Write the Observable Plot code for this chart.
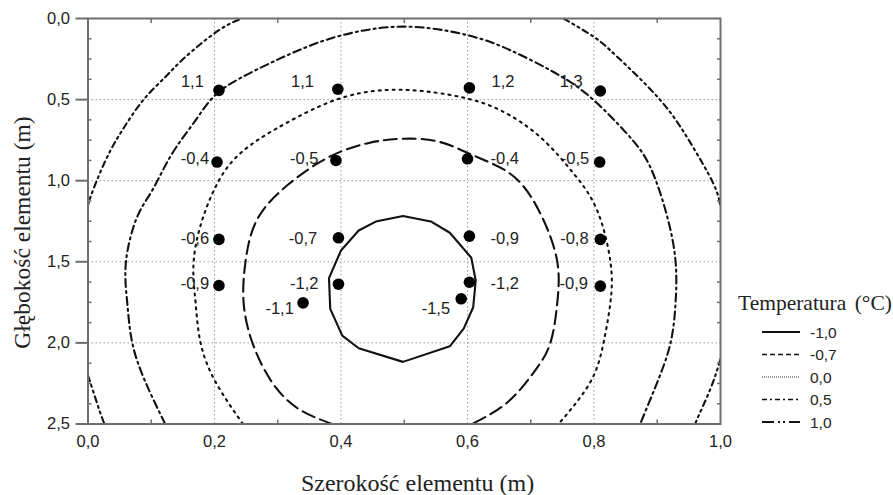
<!DOCTYPE html>
<html><head><meta charset="utf-8">
<script src="https://cdn.jsdelivr.net/npm/d3@7"></script>
<script src="https://cdn.jsdelivr.net/npm/@observablehq/plot@0.6"></script>
<style>body{margin:0;background:#fff;}</style>
</head><body><div id="chart"></div>
<script>
// ---- Data ----
const xTicks = [0, 0.2, 0.4, 0.6, 0.8, 1.0];
const yTicks = [0, 0.5, 1.0, 1.5, 2.0, 2.5];
const xMinor = [0.1, 0.3, 0.5, 0.7, 0.9];
const yMinor = [0.125, 0.25, 0.375, 0.625, 0.75, 0.875, 1.125, 1.25, 1.375, 1.625, 1.75, 1.875, 2.125, 2.25, 2.375];

const levels = ["-1,0", "-0,7", "0,0", "0,5", "1,0"];

// contour -1.0 (closed polygon)
const contourM10 = [[0.498,1.218],[0.455,1.252],[0.428,1.307],[0.400,1.430],[0.381,1.601],[0.383,1.790],[0.402,1.955],[0.428,2.033],[0.498,2.117],[0.572,2.021],[0.594,1.912],[0.609,1.780],[0.613,1.615],[0.606,1.475],[0.572,1.321],[0.542,1.251]];
// contour -0.7
const contourM07 = [[0.386,2.5],[0.333,2.407],[0.291,2.243],[0.260,2.0],[0.246,1.75],[0.249,1.5],[0.268,1.235],[0.318,1.019],[0.381,0.854],[0.444,0.767],[0.500,0.741],[0.557,0.762],[0.615,0.854],[0.675,0.98],[0.718,1.225],[0.742,1.5],[0.742,1.75],[0.731,2.0],[0.705,2.18],[0.663,2.367],[0.607,2.5]];
// contour 0.0
const contour00 = [[0.245,2.5],[0.202,2.243],[0.178,2.0],[0.170,1.75],[0.167,1.5],[0.183,1.214],[0.217,0.936],[0.260,0.772],[0.312,0.648],[0.402,0.488],[0.500,0.440],[0.589,0.484],[0.652,0.566],[0.715,0.731],[0.768,0.957],[0.805,1.183],[0.826,1.5],[0.826,1.75],[0.815,2.0],[0.794,2.243],[0.744,2.5]];
// contour 0.5
const contour05 = [[0.122,2.5],[0.091,2.243],[0.070,2.0],[0.062,1.75],[0.060,1.5],[0.077,1.23],[0.1015,1.06],[0.133,0.833],[0.170,0.628],[0.207,0.453],[0.270,0.309],[0.333,0.196],[0.402,0.103],[0.500,0.050],[0.600,0.103],[0.668,0.196],[0.736,0.330],[0.794,0.484],[0.852,0.710],[0.889,0.916],[0.916,1.225],[0.929,1.5],[0.929,1.75],[0.921,2.0],[0.900,2.243],[0.873,2.5]];
// contour 1.0 (four pieces inside the frame)
const contour10a = [[0.0,1.17],[0.004,1.10],[0.0277,0.875],[0.054,0.69],[0.088,0.5],[0.1225,0.36],[0.154,0.237],[0.207,0.072],[0.244,0.0]];
const contour10b = [[0.752,0.0],[0.800,0.114],[0.837,0.237],[0.905,0.504],[0.953,0.77],[0.989,1.02],[1.0,1.163]];
const contour10c = [[0.0,2.2],[0.022,2.46],[0.028,2.5]];
const contour10d = [[1.0,2.1],[0.984,2.284],[0.963,2.47],[0.961,2.5]];

// measurement points
const pointX = [0.207,0.395,0.603,0.810, 0.204,0.392,0.600,0.809, 0.207,0.396,0.603,0.810, 0.207,0.396,0.603,0.810, 0.340,0.590];
const pointY = [0.443,0.436,0.428,0.447, 0.885,0.875,0.865,0.885, 1.362,1.352,1.342,1.362, 1.646,1.638,1.626,1.650, 1.753,1.728];
const pointValue = ["1,1","1,1","1,2","1,3", "-0,4","-0,5","-0,4","-0,5", "-0,6","-0,7","-0,9","-0,8", "-0,9","-1,2","-1,2","-0,9", "-1,1","-1,5"];
const labelX = [0.165,0.339,0.656,0.764, 0.169,0.342,0.659,0.770, 0.169,0.340,0.659,0.769, 0.169,0.342,0.659,0.768, 0.303,0.550];
const labelY = [0.391,0.391,0.391,0.391, 0.864,0.864,0.864,0.864, 1.358,1.358,1.358,1.358, 1.634,1.634,1.634,1.634, 1.790,1.790];

// ---- Build ----
const fmt = d => d.toFixed(1).replace(".", ",");
const points = pointX.map((x, i) => ({x, y: pointY[i], value: pointValue[i], lx: labelX[i], ly: labelY[i]}));
const P = d => d[0], Q = d => d[1];

const styles = {
  "-0,7": {strokeDasharray: "13,6"},
  "0,0": {strokeDasharray: "2,5"},
  "0,5": {strokeDasharray: "8,4,2,4"},
  "1,0": {strokeDasharray: "6,4,2,4,2,4"}
};
const lineOpts = (lvl) => ({x: P, y: Q, curve: "natural", stroke: "#111", strokeWidth: 2.1, clip: true, ...styles[lvl]});

const gridStyle = {stroke: "#9a9a9a", strokeOpacity: 1, strokeWidth: 1, strokeDasharray: "1.5,2.5"};
const axisColor = "#6e6e6e";
const blank = () => "";

const plot = Plot.plot({
  width: 893, height: 495,
  marginLeft: 87.5, marginRight: 173, marginTop: 18, marginBottom: 71.5,
  x: {domain: [0, 1]},
  y: {domain: [0, 2.5], reverse: true},
  style: {fontFamily: "'Liberation Sans', Arial, sans-serif", fontSize: "16px", background: "white", color: "#222"},
  marks: [
    Plot.gridX(xTicks.slice(1, -1), gridStyle),
    Plot.gridY(yTicks.slice(1, -1), gridStyle),
    Plot.line(contourM07, lineOpts("-0,7")),
    Plot.line(contour00, lineOpts("0,0")),
    Plot.line(contour05, lineOpts("0,5")),
    Plot.line(contour10a, lineOpts("1,0")),
    Plot.line(contour10b, lineOpts("1,0")),
    Plot.line(contour10c, lineOpts("1,0")),
    Plot.line(contour10d, lineOpts("1,0")),
    Plot.line(contourM10, {x: P, y: Q, curve: "linear-closed", stroke: "#111", strokeWidth: 2.1}),
    Plot.dot(points, {x: "x", y: "y", r: 5.8, fill: "black", stroke: "none"}),
    Plot.text(points, {x: "lx", y: "ly", text: "value", fontSize: 16.5, fill: "#222"}),
    Plot.frame({stroke: axisColor, strokeWidth: 2}),
    Plot.axisY(yTicks, {tickSize: 12, tickPadding: 6, tickFormat: fmt, label: null, stroke: axisColor, strokeWidth: 2, fontSize: 16.5}),
    Plot.axisX(xTicks, {tickSize: 0, tickPadding: 11, tickFormat: fmt, label: null, fontSize: 16.5}),
    Plot.axisX(xMinor, {anchor: "bottom", tickSize: -4, tickFormat: blank, label: null, stroke: axisColor, strokeWidth: 1.5}),
    Plot.axisX(xMinor, {anchor: "top", tickSize: -4, tickFormat: blank, label: null, stroke: axisColor, strokeWidth: 1.5}),
    Plot.axisY(yMinor, {anchor: "left", tickSize: -4, tickFormat: blank, label: null, stroke: axisColor, strokeWidth: 1.5}),
    Plot.axisY(yMinor, {anchor: "right", tickSize: -4, tickFormat: blank, label: null, stroke: axisColor, strokeWidth: 1.5})
  ]
});

const svg = d3.select(plot);
const serif = "'Liberation Serif', 'Times New Roman', serif";
const sans = "'Liberation Sans', Arial, sans-serif";
svg.append("text").attr("transform", "translate(21.5,232.5) rotate(-90)")
  .style("text-anchor", "middle").attr("dominant-baseline", "central")
  .style("font-family", serif).style("font-size", "23.5px").attr("fill", "#222")
  .text("Głębokość elementu (m)");
svg.append("text").attr("x", 417.5).attr("y", 483)
  .style("text-anchor", "middle").attr("dominant-baseline", "central")
  .style("font-family", serif).style("font-size", "24px").attr("fill", "#222")
  .text("Szerokość elementu (m)");

// legend
const lg = svg.append("g");
lg.append("text").attr("x", 738).attr("y", 303).attr("dominant-baseline", "central")
  .style("text-anchor", "start").style("font-family", serif).style("font-size", "21.5px").attr("fill", "#222")
  .style("word-spacing", "3px").text("Temperatura (°C)");
const legendDash = ["", "5,3", "1,1", "5,3,2,3", "12,4,2,3,2,4"];
const legendColor = ["#111", "#111", "#777", "#111", "#111"];
const legendWidth = [2, 1.5, 1.5, 1.5, 2];
levels.forEach((lvl, i) => {
  const y = 332 + i * 22.5;
  lg.append("line").attr("x1", 762).attr("x2", 800).attr("y1", y).attr("y2", y)
    .attr("stroke", legendColor[i]).attr("stroke-width", legendWidth[i])
    .attr("stroke-dasharray", legendDash[i] || null);
  lg.append("text").attr("x", 810).attr("y", y).attr("dominant-baseline", "central")
    .style("text-anchor", "start").style("font-family", sans).style("font-size", "15.5px").attr("fill", "#222")
    .text(lvl);
});

document.getElementById("chart").appendChild(plot);
</script>
</body></html>
